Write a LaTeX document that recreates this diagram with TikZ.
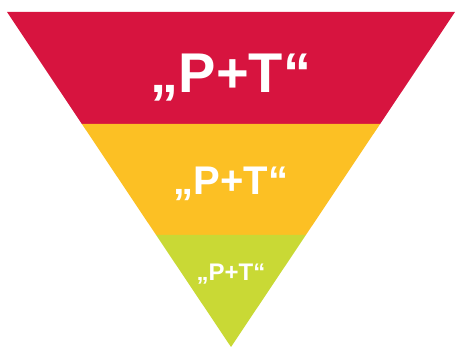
\documentclass[tikz,border=0pt]{standalone}
\usepackage{fontspec}
\setmainfont{Liberation Sans}
\definecolor{ptred}{RGB}{215,20,63}
\definecolor{ptyellow}{RGB}{252,192,36}
\definecolor{ptgreen}{RGB}{201,217,53}
\usetikzlibrary{positioning}

\begin{document}
\begin{tikzpicture}[x=1pt, y=1pt,
    label/.style={anchor=base, text=white, font=\bfseries, inner sep=0pt}]
    \useasboundingbox (0,0) rectangle (455,347);

    % corners of the funnel
    \coordinate (tl) at (7,335);
    \coordinate (tr) at (455,335);
    \coordinate (apex) at (231,0);
    \coordinate (ml) at (81.9,223);
    \coordinate (mr) at (380.1,223);
    \coordinate (bl) at (156.1,112);
    \coordinate (br) at (305.9,112);

    % bands
    \fill[ptred] (tl) -- (tr) -- (mr) -- (ml) -- cycle;
    \fill[ptyellow] (ml) -- (mr) -- (br) -- (bl) -- cycle;
    \fill[ptgreen] (bl) -- (br) -- (apex) -- cycle;

    % labels
    \node[label, font=\bfseries\fontsize{56}{60}\selectfont] (top) at (231,254) {„P+T“};
    \node[label, font=\bfseries\fontsize{40}{44}\selectfont] (mid) at (231,152) {„P+T“};
    \node[label, font=\bfseries\fontsize{24}{28}\selectfont] (low) at (231,66) {„P+T“};
\end{tikzpicture}
\end{document}
